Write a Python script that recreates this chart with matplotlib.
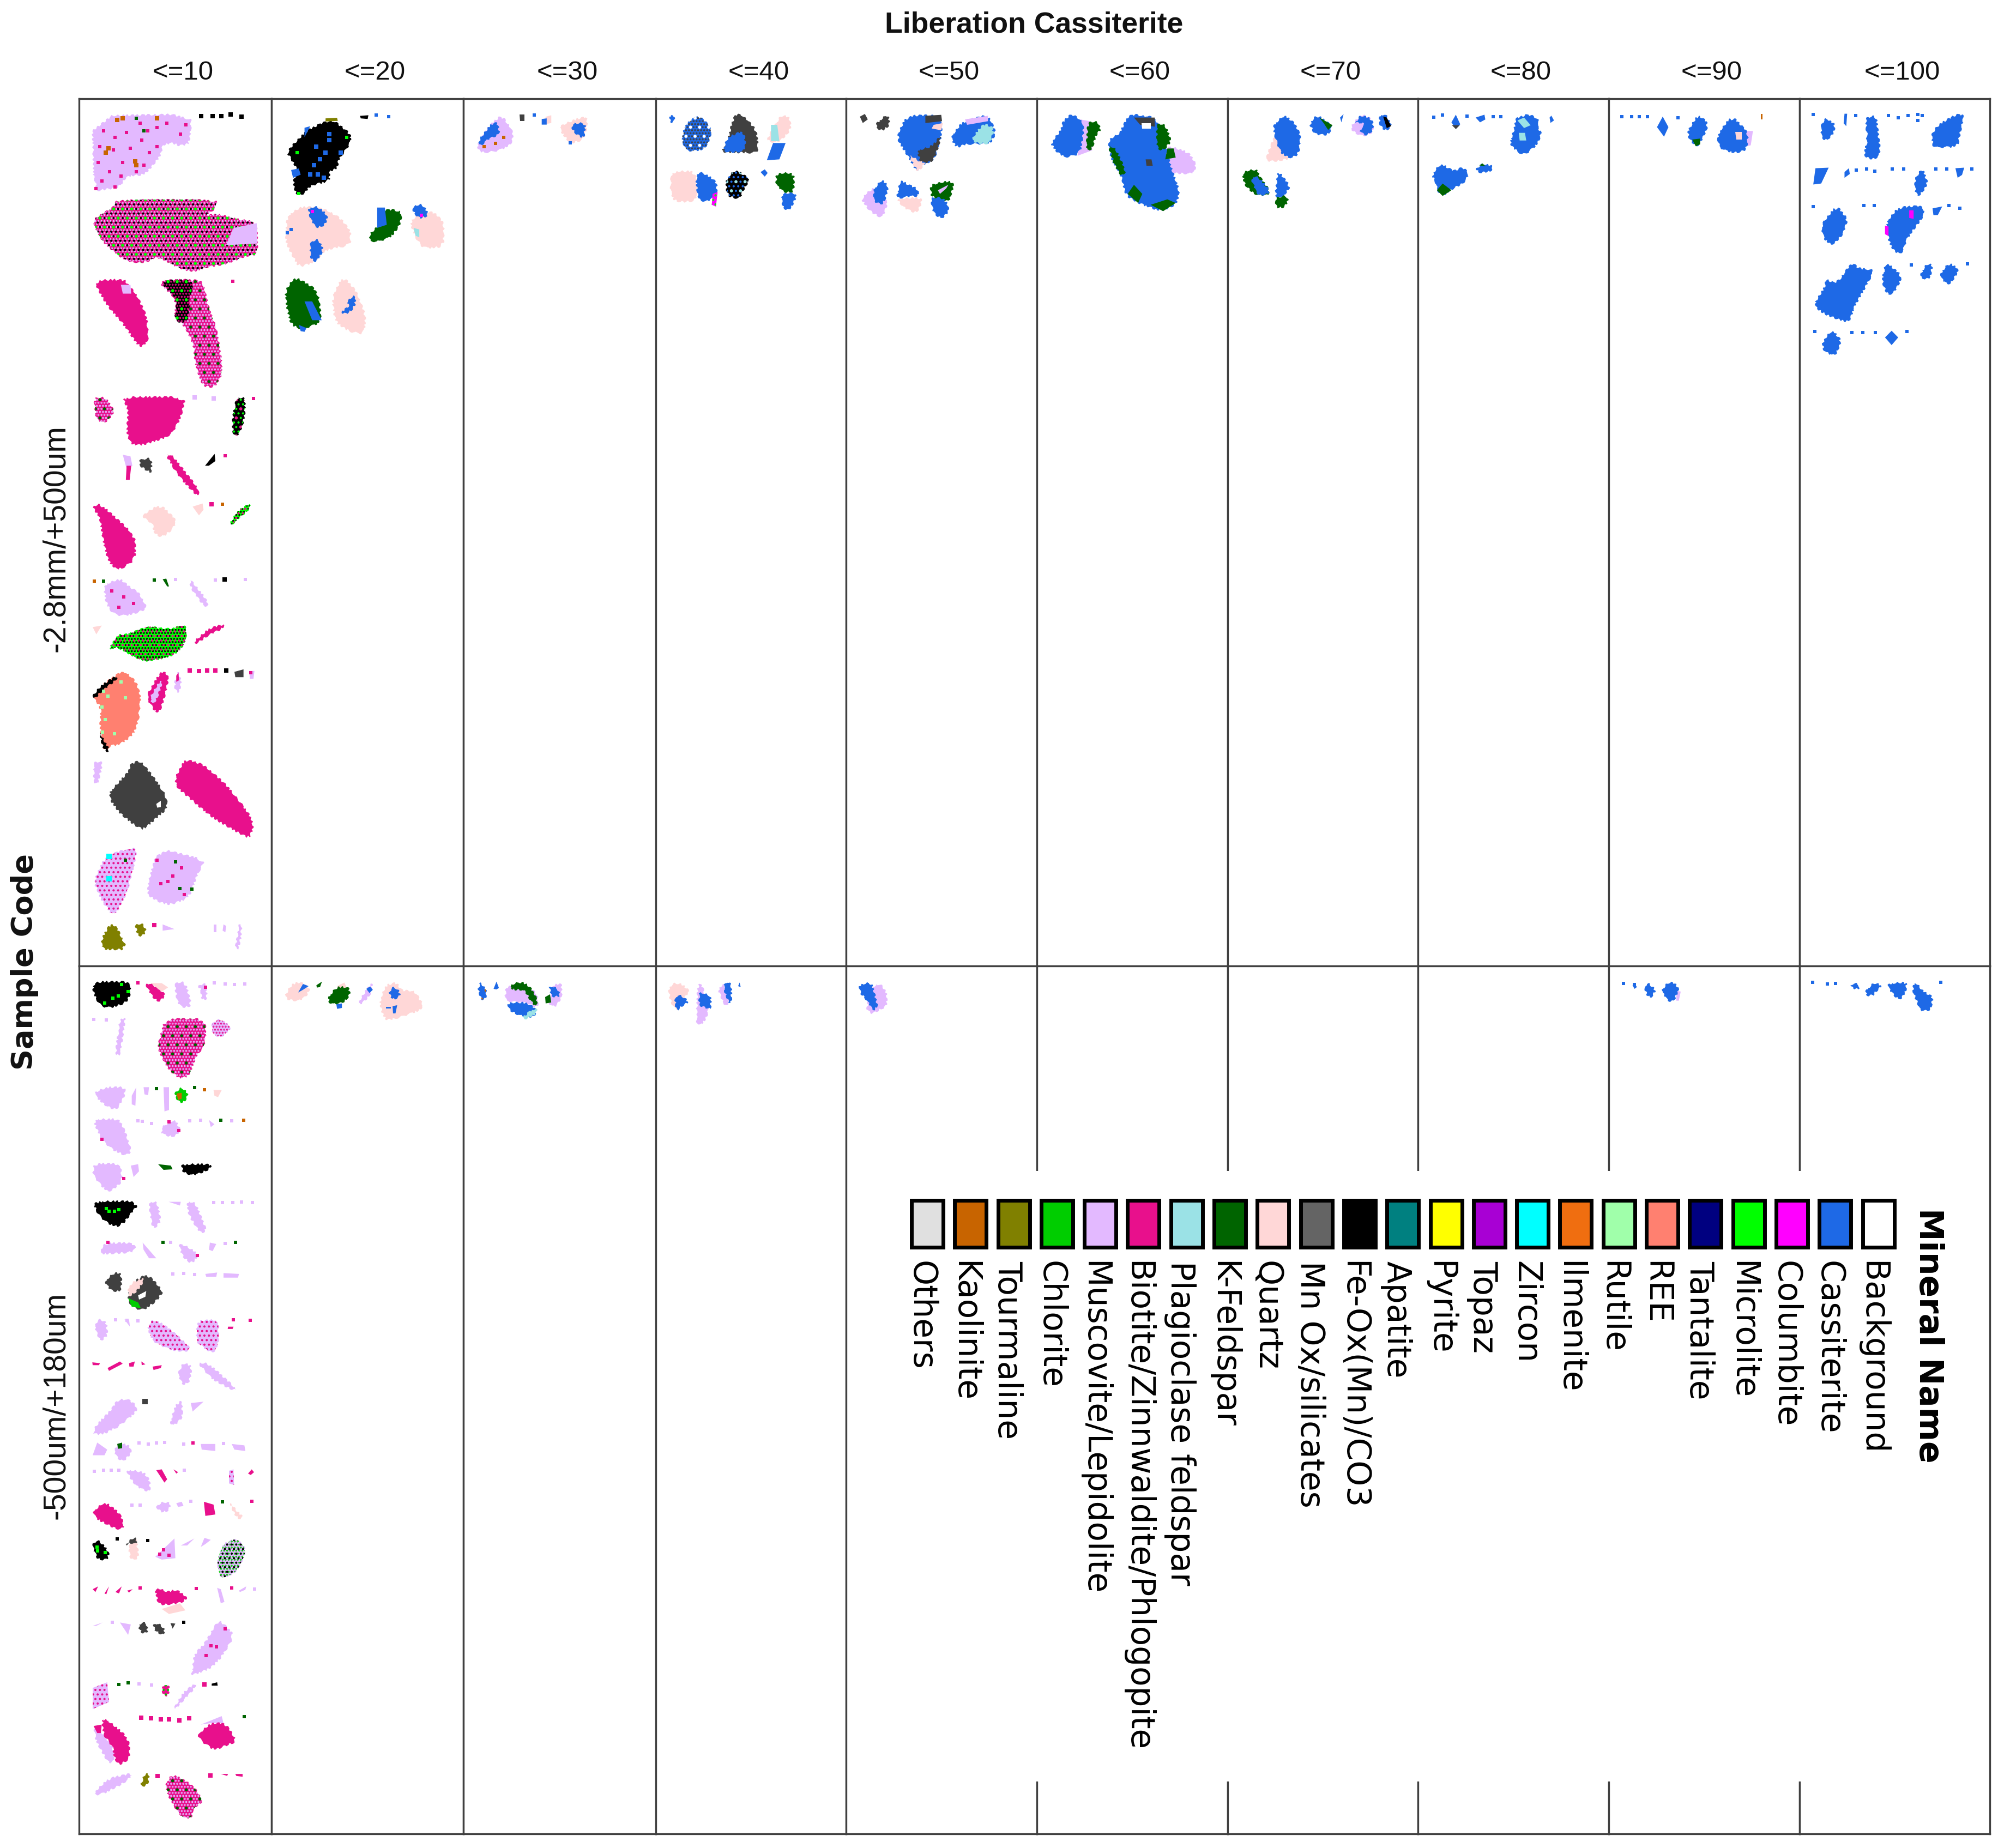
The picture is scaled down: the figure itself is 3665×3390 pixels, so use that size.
import matplotlib
matplotlib.use("Agg")
import matplotlib.pyplot as plt
from matplotlib.patches import Polygon, Rectangle

plt.rcParams["hatch.linewidth"] = 1.7

W, H = 3666, 3391
X_EDGES = [145, 498, 850, 1203, 1552, 1902, 2252, 2601, 2951, 3301, 3650]
Y_EDGES = [182, 1773, 3365]

COL_LABELS = ["<=10", "<=20", "<=30", "<=40", "<=50", "<=60", "<=70", "<=80", "<=90", "<=100"]
ROW_LABELS = ["-2.8mm/+500um", "-500um/+180um"]

MINERAL_NAMES = ["Others", "Kaolinite", "Tourmaline", "Chlorite", "Muscovite/Lepidolite",
                 "Biotite/Zinnwaldite/Phlogopite", "Plagioclase feldspar", "K-Feldspar", "Quartz",
                 "Mn Ox/silicates", "Fe-Ox(Mn)/CO3", "Apatite", "Pyrite", "Topaz", "Zircon", "Ilmenite",
                 "Rutile", "REE", "Tantalite", "Microlite", "Columbite", "Cassiterite", "Background"]
MINERAL_COLORS = ["#E0E0E0", "#C86400", "#808000", "#00CD00", "#E3B9FF", "#E8108C", "#9BE2E6", "#006400",
                  "#FFD7D7", "#646464", "#000000", "#008080", "#FFFF00", "#A800D4", "#00FFFF", "#F06E10",
                  "#A0FFAA", "#FF8070", "#000080", "#00FF00", "#FF00FF", "#1E69E6", "#FFFFFF"]

# grain colours, Mn phase shows darker in the maps than in the key
COL = {"KAO": "#C86400", "TOU": "#808000", "CHL": "#00CD00", "MUS": "#E3B9FF", "BIO": "#E8108C",
       "PLA": "#9BE2E6", "KFS": "#006400", "QTZ": "#FFD7D7", "MNO": "#404040", "FEO": "#000000",
       "ZIR": "#00FFFF", "REE": "#FF8070", "RUT": "#A0FFAA", "MIC": "#00FF00", "COL": "#FF00FF",
       "CAS": "#1E69E6", "WHT": "#FFFFFF"}

# outlines were traced on crops of the scan: name -> (left, top, x scale, y scale)
CROPS = {"A": (120, 0, 1.425, 1.742), "B": (120, 850, 3.0, 1.742), "C": (1200, 150, 1.3067, 3.0),
         "D": (2400, 150, 1.2385, 2.851), "E": (120, 1760, 3.0, 1.912), "F": (120, 2580, 3.0, 1.933),
         "G": (500, 1780, 2.24, 3.0), "H": (1200, 1780, 3.0, 3.0), "I": (2950, 1780, 2.24, 3.0)}

# textures laid over a grain: (mineral, hatch)
MOTTLE = [("MUS", "..."), ("FEO", ".."), ("MIC", ".")]
PINK_MIX = [("MUS", "..."), ("KFS", ".")]
GREEN_MIX = [("FEO", "..."), ("BIO", "..")]
BLUE_MN = [("MNO", "..."), ("WHT", ".")]
BLACK_MIX = [("CAS", ".."), ("PLA", ".")]

# each grain: (crop, mineral, outline, texture)
GRAINS_00 = [
    ("A", "MUS", [(70, 372), (330, 366), (325, 460), (300, 468), (278, 458), (255, 465), (248, 500), (225, 535), (205, 560), (160, 565), (140, 600), (115, 605), (75, 612)], None),
    ("A", "BIO", [(135, 640), (397, 640), (390, 670), (365, 690), (400, 686), (440, 700), (500, 712), (502, 815), (470, 820), (420, 845), (370, 855), (335, 870), (300, 860), (240, 820), (210, 840), (170, 840), (135, 815), (95, 770), (75, 720), (75, 700), (125, 665)], MOTTLE),
    ("A", "MUS", [(440, 730), (500, 715), (502, 780), (420, 785)], None),
    ("A", "BIO", [(72, 897), (155, 895), (165, 915), (185, 940), (212, 1010), (218, 1090), (195, 1115), (150, 1035), (110, 980)], None),
    ("A", "MUS", [(145, 912), (170, 912), (172, 940), (150, 940)], None),
    ("A", "BIO", [(240, 897), (335, 895), (360, 905), (375, 990), (395, 1050), (412, 1190), (390, 1240), (360, 1235), (340, 1170), (335, 1100), (310, 1040), (285, 1020), (290, 960)], PINK_MIX),
    ("A", "FEO", [(245, 897), (335, 897), (325, 950), (320, 1030), (285, 1030), (293, 960)], [("BIO", "..."), ("MIC", ".")]),
    ("A", "BIO", [(75, 1272), (105, 1272), (130, 1320), (100, 1355), (80, 1340)], PINK_MIX),
    ("A", "BIO", [(147, 1270), (315, 1270), (300, 1340), (275, 1395), (200, 1425), (170, 1420), (160, 1380), (165, 1310)], None),
    ("A", "FEO", [(447, 1272), (470, 1272), (468, 1340), (452, 1395), (438, 1390), (437, 1340)], [("MIC", ".."), ("BIO", ".")]),
    ("A", "MUS", [(150, 1455), (170, 1460), (175, 1490), (160, 1500)], None),
    ("A", "BIO", [(160, 1490), (172, 1490), (168, 1535), (158, 1535)], None),
    ("A", "MNO", [(195, 1470), (225, 1465), (225, 1512), (212, 1505), (195, 1490)], None),
    ("B", "BIO", [(552, -26), (585, -26), (640, 15), (735, 85), (730, 105), (715, 100), (620, 40)], None),
    ("A", "FEO", [(365, 1490), (390, 1452), (392, 1475), (375, 1490)], None),
    ("B", "BIO", [(148, 140), (190, 130), (385, 232), (383, 310), (290, 345), (235, 315), (205, 240), (190, 175)], None),
    ("B", "QTZ", [(415, 170), (520, 132), (615, 185), (585, 215), (530, 238), (490, 225), (480, 195)], None),
    ("B", "QTZ", [(700, 140), (755, 130), (760, 150), (735, 168)], None),
    ("B", "MIC", [(905, 195), (945, 155), (1015, 130), (1015, 145), (960, 175), (915, 198)], [("FEO", "..."), ("BIO", "..")]),
    ("B", "MUS", [(210, 390), (300, 370), (350, 395), (405, 415), (450, 465), (400, 478), (310, 490), (260, 480), (225, 450)], None),
    ("B", "KFS", [(535, 372), (555, 370), (570, 395), (560, 395)], None),
    ("B", "MUS", [(685, 370), (780, 440), (785, 465), (745, 445), (690, 400)], None),
    ("B", "QTZ", [(150, 525), (200, 520), (170, 548)], None),
    ("B", "MIC", [(235, 595), (290, 550), (340, 548), (400, 535), (460, 522), (540, 530), (600, 530), (630, 518), (668, 525), (660, 575), (610, 610), (540, 625), (430, 635), (350, 610), (290, 590)], GREEN_MIX),
    ("B", "BIO", [(710, 570), (790, 530), (870, 515), (868, 528), (790, 550), (720, 578)], None),
    ("B", "REE", [(150, 750), (200, 710), (320, 662), (390, 700), (415, 750), (400, 830), (370, 870), (300, 900), (240, 905), (235, 925), (205, 910), (190, 840), (195, 780)], None),
    ("B", "FEO", [(150, 745), (190, 715), (280, 680), (285, 690), (190, 735), (160, 755)], None),
    ("B", "FEO", [(190, 860), (205, 880), (240, 915), (235, 925), (205, 910)], None),
    ("B", "BIO", [(452, 740), (500, 690), (535, 665), (568, 680), (555, 730), (520, 795), (495, 795), (455, 760)], None),
    ("B", "MUS", [(465, 750), (510, 705), (535, 695), (510, 745), (480, 775)], None),
    ("B", "MUS", [(605, 690), (620, 665), (638, 700), (625, 735), (602, 725)], None),
    ("B", "BIO", [(610, 680), (622, 670), (625, 695), (610, 700)], None),
    ("B", "MNO", [(930, 668), (980, 660), (980, 685), (935, 685)], None),
    ("B", "MUS", [(1012, 665), (1040, 665), (1035, 690), (1015, 690)], None),
    ("B", "MUS", [(155, 955), (205, 955), (195, 985), (178, 1025), (158, 1025)], None),
    ("B", "MNO", [(245, 1050), (295, 1020), (350, 985), (355, 965), (410, 950), (480, 1000), (555, 1065), (560, 1105), (510, 1130), (430, 1172), (385, 1160), (300, 1120), (245, 1075)], None),
    ("B", "WHT", [(500, 1090), (525, 1080), (525, 1100), (505, 1102)], None),
    ("B", "BIO", [(605, 1005), (650, 955), (680, 950), (760, 965), (870, 1020), (950, 1075), (1020, 1130), (1035, 1165), (1010, 1200), (930, 1175), (800, 1130), (690, 1075), (610, 1035)], None),
    ("B", "MUS", [(155, 1335), (220, 1260), (300, 1240), (395, 1230), (375, 1290), (340, 1370), (290, 1430), (260, 1445), (200, 1400)], [("BIO", "..")]),
    ("B", "MUS", [(440, 1375), (510, 1230), (770, 1270), (730, 1310), (680, 1390), (580, 1412), (520, 1405)], None),
    ("B", "TOU", [(200, 1555), (200, 1520), (245, 1475), (280, 1480), (340, 1555)], None),
    ("B", "TOU", [(385, 1475), (425, 1472), (445, 1495), (420, 1515), (395, 1505)], None),
    ("B", "MUS", [(535, 1475), (600, 1490), (535, 1495)], None),
    ("B", "MUS", [(815, 1475), (830, 1475), (830, 1500), (815, 1500)], None),
    ("B", "MUS", [(870, 1475), (885, 1480), (880, 1500), (865, 1495)], None),
    ("B", "MUS", [(955, 1475), (970, 1475), (965, 1520), (950, 1555), (935, 1550), (945, 1520)], None),
]
GRAINS_01 = [
    ("A", "FEO", [(590, 470), (630, 420), (670, 395), (700, 385), (745, 430), (745, 460), (715, 510), (710, 540), (690, 550), (690, 580), (640, 595), (625, 620), (605, 625), (595, 590), (605, 540), (590, 510), (580, 490)], None),
    ("A", "TOU", [(680, 380), (710, 378), (712, 388), (680, 390)], None),
    ("A", "CAS", [(625, 410), (640, 405), (625, 440)], None),
    ("A", "CAS", [(590, 545), (610, 540), (615, 560), (595, 570)], None),
    ("A", "FEO", [(770, 372), (792, 370), (790, 382), (772, 380)], None),
    ("A", "QTZ", [(580, 690), (620, 660), (680, 670), (720, 700), (745, 740), (745, 785), (680, 800), (650, 840), (610, 855), (590, 810), (575, 770)], None),
    ("A", "CAS", [(635, 665), (660, 662), (685, 690), (680, 720), (655, 730), (640, 700)], None),
    ("A", "CAS", [(640, 775), (660, 765), (675, 800), (655, 840), (640, 825)], None),
    ("A", "KFS", [(795, 750), (820, 720), (815, 680), (850, 670), (880, 680), (875, 720), (850, 760), (815, 775), (795, 770)], None),
    ("A", "CAS", [(815, 665), (835, 665), (840, 720), (815, 730)], None),
    ("A", "QTZ", [(900, 710), (930, 680), (965, 680), (990, 715), (988, 790), (935, 795), (915, 760)], None),
    ("A", "CAS", [(908, 658), (935, 655), (950, 690), (925, 700), (910, 680)], None),
    ("A", "PLA", [(910, 730), (925, 735), (925, 760), (915, 755)], None),
    ("A", "KFS", [(575, 930), (600, 885), (660, 930), (670, 1030), (620, 1055), (590, 1040), (578, 980)], None),
    ("A", "CAS", [(625, 965), (645, 965), (670, 1025), (645, 1025)], None),
    ("A", "CAS", [(610, 1040), (630, 1050), (625, 1062), (615, 1060)], None),
    ("A", "QTZ", [(697, 950), (725, 885), (760, 930), (785, 1010), (780, 1070), (740, 1060), (705, 1030)], None),
    ("A", "CAS", [(735, 960), (760, 945), (755, 985), (735, 1005), (720, 1000), (742, 980)], None),
]
GRAINS_02 = [
    ("A", "MUS", [(1075, 465), (1110, 400), (1140, 370), (1170, 420), (1168, 460), (1130, 485), (1085, 490)], None),
    ("A", "CAS", [(1080, 450), (1115, 395), (1130, 395), (1135, 430), (1100, 450), (1085, 470)], None),
    ("A", "MNO", [(1187, 368), (1200, 368), (1200, 388), (1188, 388)], None),
    ("A", "QTZ", [(1255, 375), (1270, 370), (1270, 395), (1255, 398)], None),
    ("A", "CAS", [(1245, 382), (1258, 380), (1258, 400), (1245, 400)], None),
    ("A", "QTZ", [(1290, 405), (1340, 380), (1365, 375), (1360, 430), (1350, 450), (1320, 460), (1300, 430)], None),
    ("A", "CAS", [(1325, 395), (1360, 395), (1355, 445), (1335, 430), (1325, 415)], None),
]
GRAINS_03 = [
    ("C", "CAS", [(38, 190), (45, 180), (50, 215), (42, 230), (38, 215)], None),
    ("C", "CAS", [(65, 320), (75, 240), (105, 185), (140, 260), (125, 370), (80, 390)], BLUE_MN),
    ("C", "MNO", [(163, 380), (180, 300), (185, 240), (195, 180), (215, 190), (245, 270), (250, 385), (235, 395), (165, 390)], None),
    ("C", "CAS", [(165, 380), (175, 310), (215, 270), (220, 385), (180, 392)], None),
    ("C", "QTZ", [(290, 240), (305, 185), (325, 200), (328, 265), (300, 335), (280, 335), (270, 320)], None),
    ("C", "PLA", [(280, 240), (295, 240), (300, 330), (280, 330)], None),
    ("C", "CAS", [(270, 435), (285, 340), (315, 340), (300, 430)], None),
    ("C", "QTZ", [(42, 495), (100, 495), (105, 660), (50, 665), (38, 600)], None),
    ("C", "CAS", [(100, 520), (110, 495), (150, 550), (150, 630), (125, 665), (105, 650)], None),
    ("C", "COL", [(140, 620), (152, 610), (148, 690), (138, 680)], [("MIC", "..")]),
    ("C", "FEO", [(172, 540), (195, 485), (230, 540), (215, 590), (205, 650), (175, 630)], BLACK_MIX),
    ("C", "CAS", [(255, 500), (265, 485), (272, 505), (265, 525)], None),
    ("C", "KFS", [(293, 505), (335, 505), (335, 610), (310, 610), (292, 570)], None),
    ("C", "CAS", [(308, 615), (338, 615), (340, 640), (325, 710), (310, 700), (305, 650)], None),
]
GRAINS_04 = [
    ("C", "MNO", [(493, 195), (505, 180), (512, 210), (500, 230)], None),
    ("C", "MNO", [(535, 225), (560, 180), (565, 240), (545, 275), (532, 250)], None),
    ("C", "CAS", [(580, 310), (605, 190), (685, 185), (690, 290), (670, 440), (650, 450), (630, 500), (610, 420)], None),
    ("C", "MNO", [(650, 190), (688, 185), (690, 220), (650, 230)], None),
    ("C", "MNO", [(630, 380), (665, 360), (690, 290), (670, 440), (640, 450)], None),
    ("C", "QTZ", [(610, 400), (635, 440), (650, 450), (632, 500), (620, 450)], None),
    ("C", "QTZ", [(670, 240), (692, 230), (688, 270), (665, 260)], None),
    ("C", "CAS", [(710, 310), (740, 220), (800, 185), (820, 280), (805, 345), (750, 345), (725, 365)], None),
    ("C", "MUS", [(745, 210), (800, 190), (800, 220), (750, 240)], None),
    ("C", "PLA", [(770, 340), (760, 320), (790, 230), (815, 260), (805, 345)], None),
    ("C", "MUS", [(495, 640), (530, 580), (560, 660), (550, 740), (540, 748), (515, 710)], None),
    ("C", "CAS", [(525, 600), (545, 540), (562, 580), (550, 675), (528, 670)], None),
    ("C", "QTZ", [(580, 645), (640, 640), (640, 680), (628, 725), (600, 700)], None),
    ("C", "CAS", [(582, 625), (590, 545), (610, 570), (630, 590), (635, 630), (610, 635), (585, 645)], None),
    ("C", "KFS", [(662, 570), (700, 550), (720, 560), (705, 670), (665, 640)], None),
    ("C", "MUS", [(680, 600), (705, 570), (700, 590), (685, 620)], None),
    ("C", "CAS", [(662, 640), (690, 640), (705, 680), (705, 720), (690, 755), (670, 730)], None),
]
GRAINS_05 = [
    ("C", "MUS", [(1020, 210), (1045, 220), (1050, 380), (1015, 410)], None),
    ("C", "KFS", [(1040, 220), (1065, 225), (1070, 270), (1060, 290), (1050, 370), (1035, 385)], None),
    ("C", "CAS", [(950, 340), (975, 270), (980, 220), (1000, 180), (1025, 215), (1030, 270), (1020, 400), (985, 420), (965, 390)], None),
    ("C", "MUS", [(1225, 350), (1280, 390), (1298, 450), (1295, 510), (1230, 505), (1225, 470)], None),
    ("C", "CAS", [(1088, 320), (1115, 290), (1125, 240), (1140, 180), (1205, 200), (1215, 340), (1225, 360), (1240, 480), (1260, 610), (1250, 680), (1215, 715), (1170, 680), (1130, 630), (1120, 520), (1095, 430)], None),
    ("C", "KFS", [(1088, 350), (1105, 370), (1120, 440), (1130, 500), (1120, 520), (1105, 470)], None),
    ("C", "KFS", [(1205, 230), (1225, 240), (1240, 330), (1220, 380), (1205, 370)], None),
    ("C", "KFS", [(1230, 370), (1245, 370), (1250, 420), (1225, 430)], None),
    ("C", "KFS", [(1135, 620), (1150, 570), (1170, 620), (1160, 670)], None),
    ("C", "KFS", [(1190, 680), (1230, 650), (1250, 670), (1220, 715)], None),
    ("C", "MNO", [(1150, 200), (1200, 200), (1200, 250), (1165, 240)], None),
    ("C", "WHT", [(1168, 230), (1190, 230), (1190, 260), (1170, 260)], None),
    ("C", "MNO", [(1178, 430), (1192, 430), (1195, 465), (1180, 465)], None),
]
GRAINS_06 = [
    ("C", "QTZ", [(1490, 290), (1510, 390), (1525, 425), (1490, 440), (1465, 440), (1475, 370)], None),
    ("C", "CAS", [(1485, 240), (1510, 185), (1535, 230), (1550, 300), (1545, 400), (1525, 425), (1500, 390), (1485, 280)], None),
    ("C", "KFS", [(1410, 495), (1445, 485), (1450, 520), (1475, 600), (1470, 630), (1440, 625), (1415, 570)], None),
    ("C", "CAS", [(1430, 530), (1445, 520), (1475, 600), (1470, 625), (1445, 625)], None),
    ("C", "CAS", [(1490, 590), (1495, 490), (1525, 580), (1510, 625), (1515, 640), (1490, 640)], None),
    ("C", "KFS", [(1490, 640), (1515, 630), (1520, 655), (1510, 695), (1490, 695)], None),
    ("D", "CAS", [(2, 220), (20, 175), (55, 235), (45, 280), (15, 280)], None),
    ("D", "KFS", [(25, 190), (55, 230), (45, 255), (35, 220)], None),
    ("D", "CAS", [(72, 190), (80, 172), (75, 215)], None),
    ("D", "MUS", [(95, 240), (120, 172), (145, 200), (148, 260), (130, 290), (105, 270)], None),
    ("D", "CAS", [(105, 220), (120, 175), (145, 200), (148, 255), (130, 285), (115, 260), (130, 225), (115, 215)], None),
    ("D", "CAS", [(162, 180), (175, 170), (190, 235), (175, 260), (162, 230)], None),
    ("D", "FEO", [(170, 185), (178, 190), (188, 235), (178, 245)], None),
]
GRAINS_07 = [
    ("D", "CAS", [(325, 215), (335, 175), (345, 225), (335, 250)], None),
    ("D", "MNO", [(326, 230), (344, 230), (335, 250)], None),
    ("D", "CAS", [(380, 190), (400, 175), (402, 200), (390, 215)], None),
    ("D", "CAS", [(458, 320), (470, 230), (470, 195), (500, 172), (525, 200), (520, 240), (530, 270), (520, 330), (490, 390), (465, 350)], None),
    ("D", "PLA", [(475, 205), (490, 190), (505, 230), (490, 245)], None),
    ("D", "PLA", [(478, 270), (492, 270), (495, 310), (480, 310)], None),
    ("D", "CAS", [(548, 190), (552, 180), (558, 205), (550, 218)], None),
    ("D", "CAS", [(280, 490), (300, 430), (330, 470), (350, 450), (365, 480), (355, 530), (325, 565), (305, 600), (292, 570), (290, 530)], None),
    ("D", "KFS", [(292, 570), (305, 535), (325, 570), (305, 600)], None),
    ("D", "CAS", [(380, 460), (395, 430), (420, 445), (415, 470), (390, 480)], None),
    ("D", "KFS", [(388, 440), (396, 430), (402, 445)], None),
]
GRAINS_08 = [
    ("D", "CAS", [(792, 240), (805, 185), (818, 240), (808, 290)], None),
    ("D", "CAS", [(862, 260), (885, 175), (910, 220), (890, 330), (880, 340), (865, 300)], None),
    ("D", "KFS", [(872, 305), (890, 300), (890, 330), (880, 340)], None),
    ("D", "MUS", [(990, 260), (1010, 260), (1005, 335), (995, 340)], None),
    ("D", "CAS", [(928, 280), (962, 180), (1000, 270), (995, 360), (970, 375), (935, 355)], None),
    ("D", "QTZ", [(970, 265), (985, 265), (985, 305), (972, 305)], None),
    ("D", "KAO", [(1028, 170), (1032, 170), (1032, 200), (1028, 200)], None),
]
GRAINS_09 = [
    ("D", "CAS", [(1165, 230), (1175, 190), (1198, 230), (1190, 285), (1175, 310), (1165, 290)], None),
    ("D", "CAS", [(1265, 190), (1290, 180), (1295, 280), (1300, 380), (1285, 410), (1262, 395), (1270, 300)], None),
    ("D", "CAS", [(1218, 170), (1224, 170), (1222, 235), (1216, 220)], None),
    ("D", "CAS", [(1415, 280), (1430, 230), (1470, 175), (1490, 175), (1480, 280), (1475, 340), (1420, 350)], None),
    ("D", "CAS", [(1152, 455), (1182, 452), (1165, 535), (1147, 540)], None),
    ("D", "CAS", [(1218, 475), (1228, 455), (1230, 485), (1218, 505)], None),
    ("D", "CAS", [(1378, 510), (1395, 452), (1408, 540), (1385, 605), (1378, 570)], None),
    ("D", "CAS", [(1470, 455), (1490, 452), (1485, 490), (1475, 505)], None),
    ("D", "CAS", [(1165, 750), (1200, 650), (1225, 720), (1215, 800), (1190, 860), (1170, 820)], None),
    ("D", "CAS", [(1312, 740), (1340, 660), (1395, 650), (1400, 700), (1360, 820), (1350, 895), (1335, 900), (1320, 850)], None),
    ("D", "COL", [(1310, 755), (1318, 760), (1318, 810), (1310, 800)], None),
    ("D", "COL", [(1365, 675), (1375, 675), (1375, 720), (1365, 715)], None),
    ("D", "CAS", [(1418, 665), (1440, 655), (1430, 700), (1420, 700)], None),
    ("D", "CAS", [(1147, 1170), (1175, 1070), (1175, 1035), (1200, 1060), (1235, 945), (1250, 980), (1287, 985), (1260, 1100), (1240, 1180), (1230, 1255), (1215, 1255), (1170, 1215)], None),
    ("D", "CAS", [(1305, 1020), (1312, 945), (1350, 1020), (1330, 1110), (1315, 1115), (1305, 1060)], None),
    ("D", "CAS", [(1392, 1000), (1405, 955), (1418, 960), (1412, 1035), (1392, 1030)], None),
    ("D", "CAS", [(1437, 1000), (1455, 950), (1480, 985), (1455, 1070), (1437, 1030)], None),
    ("D", "CAS", [(1168, 1360), (1190, 1300), (1212, 1360), (1195, 1440), (1170, 1410)], None),
    ("D", "CAS", [(1310, 1340), (1325, 1305), (1340, 1340), (1325, 1380)], None),
]
GRAINS_10 = [
    ("E", "FEO", [(150, 100), (165, 80), (358, 80), (358, 125), (330, 155), (240, 172), (195, 165), (160, 130)], None),
    ("E", "BIO", [(440, 88), (470, 85), (555, 125), (515, 152), (475, 130)], None),
    ("E", "QTZ", [(470, 85), (530, 85), (565, 100), (530, 115)], None),
    ("E", "MUS", [(600, 82), (660, 82), (695, 165), (640, 170), (615, 150)], None),
    ("E", "MUS", [(730, 95), (770, 82), (780, 140), (750, 143), (745, 105)], None),
    ("E", "MUS", [(290, 260), (300, 215), (330, 205), (320, 250), (300, 340), (275, 335)], None),
    ("E", "BIO", [(510, 300), (550, 210), (770, 210), (770, 300), (720, 340), (680, 410), (630, 420), (570, 390), (520, 330)], PINK_MIX),
    ("E", "MUS", [(805, 225), (850, 210), (915, 240), (860, 275), (810, 265)], [("BIO", "...")]),
    ("E", "MUS", [(150, 470), (230, 450), (330, 450), (320, 490), (280, 530), (220, 515)], None),
    ("E", "MUS", [(365, 480), (390, 450), (385, 515), (365, 510)], None),
    ("E", "MUS", [(430, 450), (460, 450), (455, 478), (435, 475)], None),
    ("E", "MUS", [(540, 450), (570, 450), (570, 530), (545, 535)], None),
    ("E", "CHL", [(600, 470), (640, 450), (678, 475), (650, 505), (620, 500)], None),
    ("E", "KAO", [(612, 472), (640, 470), (640, 490), (620, 495)], None),
    ("E", "QTZ", [(815, 460), (860, 460), (840, 485), (820, 480)], None),
    ("E", "MUS", [(150, 562), (290, 562), (320, 590), (365, 675), (330, 690), (250, 665), (195, 630)], None),
    ("E", "MUS", [(530, 590), (600, 562), (635, 600), (600, 625), (530, 615)], None),
    ("E", "MUS", [(790, 565), (820, 580), (800, 590)], None),
    ("E", "MUS", [(150, 755), (160, 718), (300, 718), (315, 780), (240, 820), (190, 790)], None),
    ("E", "MUS", [(360, 725), (400, 720), (405, 745), (375, 765)], None),
    ("E", "KFS", [(510, 720), (580, 725), (590, 738), (540, 740)], None),
    ("E", "FEO", [(635, 720), (800, 720), (800, 735), (710, 760), (650, 750)], None),
    ("E", "FEO", [(148, 850), (415, 850), (300, 942), (225, 925), (180, 895)], None),
    ("E", "MUS", [(458, 852), (505, 852), (525, 920), (490, 945), (475, 930)], None),
    ("E", "MUS", [(568, 852), (635, 852), (630, 865)], None),
    ("E", "MUS", [(670, 850), (715, 855), (760, 925), (775, 950), (745, 965), (680, 900)], None),
    ("E", "MUS", [(190, 1025), (215, 998), (360, 995), (390, 1015), (360, 1030), (195, 1035)], None),
    ("E", "MUS", [(425, 995), (500, 1050), (460, 1050), (430, 1020)], None),
    ("E", "MUS", [(625, 995), (700, 1020), (730, 1040), (695, 1070), (640, 1040)], None),
    ("E", "MUS", [(795, 995), (830, 1000), (810, 1025), (790, 1020)], None),
    ("E", "MNO", [(215, 1130), (270, 1100), (308, 1105), (308, 1165), (250, 1165)], None),
    ("E", "MNO", [(340, 1180), (380, 1130), (450, 1105), (540, 1165), (500, 1200), (420, 1235), (360, 1215)], None),
    ("E", "QTZ", [(345, 1150), (380, 1130), (440, 1120), (395, 1165), (345, 1185)], None),
    ("E", "CHL", [(345, 1190), (400, 1205), (415, 1225), (365, 1220)], None),
    ("E", "WHT", [(400, 1180), (445, 1165), (440, 1185), (405, 1195)], None),
    ("E", "MUS", [(770, 1105), (835, 1100), (830, 1115), (775, 1115)], None),
    ("E", "MUS", [(870, 1102), (955, 1105), (950, 1118), (870, 1118)], None),
    ("E", "MUS", [(160, 1285), (185, 1262), (225, 1275), (232, 1320), (195, 1340), (170, 1310)], None),
    ("E", "MUS", [(325, 1265), (350, 1265), (355, 1290)], None),
    ("E", "MUS", [(450, 1290), (480, 1265), (550, 1285), (685, 1360), (670, 1378), (570, 1370), (480, 1340)], [("BIO", "..")]),
    ("E", "MUS", [(722, 1330), (725, 1270), (840, 1265), (845, 1340), (815, 1385), (730, 1350)], [("BIO", "..")]),
    ("E", "BIO", [(895, 1290), (925, 1290), (920, 1298), (893, 1298)], None),
    ("E", "BIO", [(148, 1415), (190, 1418), (185, 1425), (150, 1425)], None),
    ("E", "BIO", [(232, 1435), (300, 1412), (315, 1420), (240, 1445)], None),
    ("E", "BIO", [(350, 1418), (382, 1412), (375, 1430), (352, 1430)], None),
    ("E", "BIO", [(418, 1412), (440, 1422), (420, 1425)], None),
    ("E", "BIO", [(480, 1430), (530, 1425), (525, 1435), (485, 1442)], None),
    ("E", "MUS", [(622, 1450), (650, 1415), (695, 1430), (685, 1480), (650, 1495), (625, 1470)], None),
    ("E", "MUS", [(728, 1415), (790, 1420), (945, 1510), (910, 1510), (800, 1470)], None),
    ("F", "MUS", [(155, 100), (160, 75), (250, 15), (290, -23), (350, -23), (390, 0), (390, 20), (300, 70), (210, 100)], None),
    ("F", "MUS", [(575, 60), (605, 0), (640, -20), (645, 40), (600, 70)], None),
    ("F", "MUS", [(690, -10), (760, -15), (700, 20)], None),
    ("F", "MUS", [(150, 175), (175, 130), (230, 155), (215, 175)], None),
    ("F", "MUS", [(265, 155), (300, 130), (360, 145), (360, 170), (320, 195), (285, 185)], None),
    ("F", "KFS", [(285, 135), (312, 130), (312, 150), (290, 152)], None),
    ("F", "MUS", [(745, 135), (825, 135), (825, 160), (750, 155)], None),
    ("F", "MUS", [(915, 135), (985, 140), (990, 160), (930, 155)], None),
    ("F", "MUS", [(335, 225), (430, 235), (465, 265), (465, 305), (400, 290), (360, 260)], None),
    ("F", "BIO", [(500, 228), (530, 225), (560, 260), (545, 272)], None),
    ("F", "BIO", [(595, 225), (620, 235), (610, 240)], None),
    ("F", "MUS", [(900, 230), (925, 225), (928, 280), (900, 275)], [("BIO", "..")]),
    ("F", "BIO", [(1005, 240), (1025, 225), (1038, 235), (1020, 245)], None),
    ("F", "BIO", [(150, 375), (215, 340), (300, 380), (325, 430), (290, 440), (170, 400)], None),
    ("F", "MUS", [(495, 355), (540, 340), (578, 345), (570, 370), (530, 378)], None),
    ("F", "MUS", [(610, 345), (640, 340), (650, 355), (620, 358)], None),
    ("F", "BIO", [(762, 340), (815, 350), (825, 385), (770, 390)], None),
    ("F", "QTZ", [(905, 340), (940, 370), (978, 395), (960, 402), (930, 385)], None),
    ("F", "FEO", [(150, 490), (175, 475), (205, 490), (240, 520), (230, 545), (180, 545), (155, 510)], None),
    ("F", "QTZ", [(345, 500), (370, 470), (390, 470), (405, 540), (360, 545)], None),
    ("F", "MNO", [(325, 495), (370, 468), (390, 470), (390, 490), (360, 485)], None),
    ("F", "MUS", [(495, 535), (600, 470), (605, 540), (530, 545)], None),
    ("F", "MUS", [(635, 495), (710, 470), (670, 495)], None),
    ("F", "MUS", [(745, 500), (765, 468), (800, 475), (770, 490)], None),
    ("F", "MUS", [(835, 545), (870, 490), (940, 470), (985, 500), (990, 525), (940, 590), (860, 612), (845, 590)], [("CHL", "..."), ("FEO", "..")]),
    ("F", "BIO", [(150, 650), (180, 640), (165, 660)], None),
    ("F", "BIO", [(215, 665), (240, 640), (225, 668)], None),
    ("F", "BIO", [(275, 660), (310, 640), (295, 665)], None),
    ("F", "BIO", [(340, 655), (370, 650), (350, 662)], None),
    ("F", "QTZ", [(530, 720), (630, 700), (660, 725), (570, 738)], None),
    ("F", "BIO", [(492, 640), (560, 660), (610, 652), (675, 680), (630, 700), (540, 705), (510, 700)], None),
    ("F", "MUS", [(955, 655), (995, 640), (990, 652), (960, 660)], None),
    ("F", "MUS", [(835, 645), (855, 650), (875, 695), (855, 700)], None),
    ("F", "MUS", [(150, 780), (205, 768), (170, 780)], None),
    ("F", "MUS", [(300, 768), (360, 775), (345, 812)], None),
    ("F", "MNO", [(400, 780), (425, 765), (450, 775), (450, 805), (420, 805)], None),
    ("F", "MNO", [(485, 775), (510, 770), (545, 790), (540, 815), (490, 795)], None),
    ("F", "MNO", [(578, 770), (605, 772), (590, 790)], None),
    ("F", "MUS", [(695, 950), (710, 880), (770, 840), (830, 770), (860, 765), (930, 815), (860, 890), (800, 930), (700, 955)], None),
    ("F", "MUS", [(150, 1000), (230, 980), (240, 1050), (150, 1075)], [("BIO", "..")]),
    ("F", "MUS", [(600, 1070), (650, 1015), (725, 980), (700, 1010), (625, 1060), (605, 1075)], None),
    ("F", "BIO", [(535, 990), (570, 990), (570, 1020), (550, 1030), (535, 1020)], [("CHL", "..")]),
    ("F", "FEO", [(805, 985), (835, 980), (838, 992), (805, 992)], None),
    ("F", "MUS", [(155, 1135), (205, 1160), (265, 1215), (265, 1265), (235, 1265), (170, 1190)], None),
    ("F", "BIO", [(205, 1100), (345, 1175), (358, 1250), (290, 1275), (265, 1235), (265, 1215), (205, 1160)], None),
    ("F", "BIO", [(155, 1135), (200, 1130), (195, 1160), (175, 1160)], None),
    ("F", "MUS", [(745, 1130), (860, 1100), (870, 1125), (800, 1125)], None),
    ("F", "BIO", [(728, 1165), (800, 1125), (880, 1125), (945, 1190), (880, 1205), (820, 1220), (750, 1190)], None),
    ("F", "MUS", [(150, 1375), (240, 1320), (375, 1302), (330, 1335), (190, 1380)], None),
    ("F", "TOU", [(415, 1345), (435, 1305), (460, 1305), (455, 1340), (420, 1352)], None),
    ("F", "BIO", [(550, 1340), (590, 1305), (700, 1345), (760, 1400), (700, 1430), (695, 1460), (640, 1460), (570, 1390)], PINK_MIX),
    ("F", "BIO", [(855, 1305), (895, 1305), (890, 1312)], None),
    ("F", "BIO", [(935, 1305), (975, 1305), (975, 1315), (940, 1312)], None),
]
GRAINS_11 = [
    ("G", "QTZ", [(50, 145), (75, 85), (110, 65), (155, 100), (135, 150), (105, 172), (65, 165)], None),
    ("G", "CAS", [(105, 125), (125, 78), (148, 90), (125, 110)], None),
    ("G", "KFS", [(180, 85), (203, 65), (195, 95), (182, 98)], None),
    ("G", "QTZ", [(265, 90), (295, 70), (305, 100), (280, 115)], None),
    ("G", "KFS", [(230, 150), (262, 95), (310, 95), (320, 130), (300, 170), (265, 192), (230, 180)], None),
    ("G", "CAS", [(262, 190), (285, 185), (285, 210), (265, 215)], None),
    ("G", "MUS", [(350, 185), (385, 110), (410, 70), (405, 130), (365, 190)], None),
    ("G", "CAS", [(385, 105), (400, 92), (412, 110), (398, 128)], None),
    ("G", "QTZ", [(440, 170), (465, 85), (510, 70), (530, 115), (585, 115), (625, 210), (540, 255), (470, 280), (450, 240)], None),
    ("G", "CAS", [(478, 130), (490, 95), (515, 105), (525, 145), (495, 165)], None),
    ("G", "CAS", [(465, 205), (485, 205), (485, 212), (465, 212)], None),
    ("G", "CAS", [(493, 200), (512, 195), (505, 240), (495, 240)], None),
]
GRAINS_12 = [
    ("G", "CAS", [(845, 110), (852, 65), (880, 115), (875, 160), (858, 165)], [("KAO", ".")]),
    ("G", "CAS", [(908, 105), (920, 65), (930, 100), (920, 108)], None),
    ("G", "MUS", [(955, 155), (960, 85), (1060, 100), (1090, 140), (1090, 210), (1040, 180), (965, 175)], None),
    ("G", "KFS", [(970, 85), (1020, 65), (1055, 90), (1085, 150), (1085, 210), (1060, 170), (1035, 110), (990, 110)], None),
    ("G", "CAS", [(965, 180), (1040, 180), (1085, 215), (1075, 260), (1020, 255), (975, 225)], None),
    ("G", "PLA", [(1060, 225), (1085, 210), (1085, 240), (1045, 270), (1025, 265)], None),
    ("G", "MUS", [(1135, 170), (1150, 90), (1185, 70), (1190, 140), (1165, 205), (1140, 195)], None),
    ("G", "CAS", [(1135, 95), (1150, 90), (1175, 110), (1180, 145), (1150, 150)], None),
    ("G", "KFS", [(1120, 150), (1140, 135), (1145, 180), (1122, 185)], None),
]
GRAINS_13 = [
    ("H", "QTZ", [(80, 100), (105, 75), (145, 75), (195, 115), (170, 150), (130, 220), (105, 205), (85, 155)], None),
    ("H", "CAS", [(115, 160), (130, 135), (170, 155), (188, 180), (150, 200), (130, 222), (120, 215)], None),
    ("H", "MUS", [(232, 285), (240, 80), (265, 85), (300, 215), (285, 270), (245, 312)], None),
    ("H", "CAS", [(248, 120), (275, 130), (312, 145), (312, 215), (285, 210), (248, 195)], None),
    ("H", "MUS", [(350, 105), (385, 75), (415, 170), (395, 205), (375, 165)], None),
    ("H", "CAS", [(385, 80), (400, 65), (425, 80), (425, 180), (410, 180), (385, 110)], None),
    ("H", "CAS", [(462, 90), (470, 70), (476, 95)], None),
]
GRAINS_14 = [
    ("H", "MUS", [(1212, 80), (1250, 80), (1280, 130), (1280, 200), (1235, 222), (1195, 245), (1165, 210)], None),
    ("H", "CAS", [(1128, 80), (1195, 70), (1215, 140), (1230, 200), (1205, 225), (1165, 160), (1135, 130)], None),
]
GRAINS_18 = [
    ("I", "CAS", [(100, 85), (108, 75), (118, 95), (108, 105)], None),
    ("I", "CAS", [(150, 100), (160, 68), (195, 110), (180, 150), (160, 145)], None),
    ("I", "MUS", [(280, 115), (298, 120), (290, 170), (280, 170)], None),
    ("I", "CAS", [(218, 115), (245, 70), (270, 70), (292, 105), (270, 170), (245, 172)], None),
]
GRAINS_19 = [
    ("I", "CAS", [(995, 90), (1010, 70), (1032, 85), (1030, 105), (1008, 102)], None),
    ("I", "CAS", [(1060, 110), (1095, 68), (1125, 90), (1095, 125), (1090, 140), (1060, 142)], None),
    ("I", "CAS", [(1150, 75), (1225, 68), (1225, 110), (1205, 160), (1185, 155), (1155, 110)], None),
    ("I", "CAS", [(1255, 80), (1265, 70), (1295, 120), (1335, 150), (1325, 220), (1285, 230), (1270, 180), (1252, 120)], None),
]

# small specks and fragments: (crop, mineral, marker size, points)
SPECKS_00 = [
    ("A", "BIO", 20, [(100, 420), (130, 440), (160, 425), (195, 395), (215, 420), (240, 410), (265, 395), (300, 430), (315, 400), (90, 470), (85, 520), (125, 480), (170, 475), (200, 450), (220, 490), (150, 520), (115, 550), (95, 580), (145, 565), (185, 550), (205, 530), (130, 600), (80, 605), (240, 470)]),
    ("A", "KAO", 30, [(150, 380), (135, 385), (240, 380), (112, 475), (105, 490), (183, 517), (185, 530)]),
    ("A", "KFS", 20, [(185, 380), (205, 420)]),
    ("A", "FEO", 40, [(355, 372), (385, 372), (408, 372), (432, 368), (460, 375)]),
    ("A", "MUS", 30, [(338, 1272), (388, 1275)]),
    ("A", "BIO", 25, [(492, 1275), (418, 1458), (438, 900)]),
    ("B", "BIO", 30, [(805, 133), (685, 663), (735, 665), (780, 663), (825, 663), (490, 1478)]),
    ("B", "KAO", 20, [(865, 132), (160, 378)]),
    ("B", "KFS", 25, [(210, 378), (490, 375)]),
    ("B", "FEO", 30, [(885, 663), (875, 372)]),
    ("B", "BIO", 25, [(255, 410), (320, 428), (375, 450), (295, 462), (1020, 670)]),
    ("B", "MUS", 25, [(825, 375), (990, 372), (605, 372)]),
    ("B", "RUT", 22, [(210, 730), (235, 745), (200, 780), (220, 820), (205, 860), (270, 865), (305, 700), (330, 750)]),
    ("B", "KFS", 25, [(330, 1270), (605, 1275), (630, 1360), (695, 1362)]),
    ("B", "ZIR", 60, [(240, 1258), (240, 1330)]),
    ("B", "BIO", 20, [(505, 1270), (590, 1320), (525, 1345), (565, 1338), (640, 1295), (655, 1380)]),
]
SPECKS_01 = [
    ("A", "CAS", 30, [(690, 430), (690, 450), (655, 470), (680, 490), (650, 530), (665, 510), (660, 560), (675, 570), (640, 560), (720, 490)]),
    ("A", "MIC", 15, [(735, 440), (605, 490), (610, 620)]),
    ("A", "CAS", 25, [(812, 370), (845, 375), (650, 690), (580, 745), (590, 735)]),
    ("A", "COL", 15, [(645, 678), (930, 690)]),
]
SPECKS_02 = [
    ("A", "KAO", 15, [(1095, 470), (1145, 440), (1125, 460)]),
    ("A", "CAS", 15, [(1225, 370), (1320, 458)]),
]
SPECKS_07 = [
    ("D", "CAS", 25, [(285, 188), (305, 178), (360, 182), (420, 185), (437, 185)]),
]
SPECKS_08 = [
    ("D", "CAS", 20, [(712, 185), (735, 185), (752, 185), (770, 185), (840, 190)]),
]
SPECKS_09 = [
    ("D", "CAS", 25, [(1147, 175), (1243, 180), (1318, 180), (1340, 190), (1362, 180), (1385, 175), (1395, 180), (1385, 205)]),
    ("D", "CAS", 25, [(1245, 465), (1268, 460), (1287, 470), (1327, 458), (1352, 460), (1425, 460), (1450, 460), (1507, 460)]),
    ("D", "CAS", 25, [(1147, 655), (1285, 650), (1262, 650), (1455, 650), (1480, 665)]),
    ("D", "CAS", 25, [(1370, 960), (1497, 955), (1150, 1310), (1235, 1315), (1260, 1315), (1288, 1315), (1360, 1310)]),
]
SPECKS_10 = [
    ("E", "MIC", 15, [(260, 138), (310, 90), (290, 130), (215, 155), (345, 115), (240, 885), (270, 885), (295, 880), (225, 875)]),
    ("E", "BIO", 25, [(400, 85), (925, 1265), (1018, 1268)]),
    ("E", "MUS", 25, [(820, 85), (878, 88), (930, 90), (988, 88), (155, 212), (225, 215)]),
    ("E", "KFS", 25, [(500, 455), (712, 452), (855, 565), (538, 995), (935, 995)]),
    ("E", "MUS", 25, [(400, 568), (422, 570), (475, 577), (685, 568), (745, 566), (915, 568), (815, 855), (865, 855), (920, 855), (970, 852), (1030, 855)]),
    ("E", "KAO", 20, [(765, 458), (982, 565)]),
    ("E", "MUS", 20, [(590, 1105), (650, 1103), (710, 1108), (880, 998), (580, 995)]),
    ("E", "BIO", 25, [(200, 632), (570, 572), (625, 602), (770, 100), (320, 770), (235, 995), (725, 1040)]),
    ("E", "MUS", 25, [(340, 1268), (400, 1270), (275, 1265)]),
    ("E", "MNO", 60, [(437, 1552)]),
    ("F", "MUS", 25, [(160, 232), (210, 228), (252, 228), (295, 228), (405, 132), (455, 135), (500, 132), (545, 130), (655, 228), (365, 352), (412, 352), (690, 338), (652, 135), (870, 133)]),
    ("F", "BIO", 25, [(703, 132), (1025, 338), (915, 645), (412, 645), (720, 648)]),
    ("F", "KFS", 25, [(865, 340), (295, 988), (345, 982), (983, 1102)]),
    ("F", "FEO", 25, [(285, 472), (452, 478), (652, 767)]),
    ("F", "MUS", 25, [(258, 768), (405, 985), (475, 990), (1040, 650)]),
    ("F", "BIO", 30, [(765, 988), (418, 1105), (470, 1108), (525, 1112), (570, 1112), (628, 1115), (682, 1108), (508, 1312), (798, 1310)]),
    ("F", "BIO", 22, [(540, 510), (570, 530), (520, 525), (800, 850), (830, 855), (775, 885), (880, 790)]),
    ("F", "MIC", 15, [(175, 500), (178, 515), (220, 520)]),
]
SPECKS_18 = [
    ("I", "CAS", 18, [(62, 75), (108, 82)]),
]
SPECKS_19 = [
    ("I", "CAS", 18, [(840, 70), (900, 78), (935, 75), (1367, 70)]),
]

PANELS = {(0, 0): (GRAINS_00, SPECKS_00), (0, 1): (GRAINS_01, SPECKS_01), (0, 2): (GRAINS_02, SPECKS_02),
          (0, 3): (GRAINS_03, []), (0, 4): (GRAINS_04, []), (0, 5): (GRAINS_05, []), (0, 6): (GRAINS_06, []),
          (0, 7): (GRAINS_07, SPECKS_07), (0, 8): (GRAINS_08, SPECKS_08), (0, 9): (GRAINS_09, SPECKS_09),
          (1, 0): (GRAINS_10, SPECKS_10), (1, 1): (GRAINS_11, []), (1, 2): (GRAINS_12, []), (1, 3): (GRAINS_13, []),
          (1, 4): (GRAINS_14, []), (1, 8): (GRAINS_18, SPECKS_18), (1, 9): (GRAINS_19, SPECKS_19)}


def crop_to_panel(crop, pts, r, c):
    left, top, sx, sy = CROPS[crop]
    return [(left + x / sx - X_EDGES[c], top + y / sy - Y_EDGES[r]) for x, y in pts]


def round_corners(pts):
    # one pass of corner cutting, keeps the traced grains from looking faceted
    if len(pts) < 5:
        return pts
    out = []
    for i, (x0, y0) in enumerate(pts):
        x1, y1 = pts[(i + 1) % len(pts)]
        out.append((x0 + 0.2 * (x1 - x0), y0 + 0.2 * (y1 - y0)))
        out.append((x0 + 0.8 * (x1 - x0), y0 + 0.8 * (y1 - y0)))
    return out


fig = plt.figure(figsize=(W / 100, H / 100), dpi=100, facecolor="white")

for r in range(2):
    for c in range(10):
        x0, x1 = X_EDGES[c], X_EDGES[c + 1]
        y0, y1 = Y_EDGES[r], Y_EDGES[r + 1]
        ax = fig.add_axes([x0 / W, 1 - y1 / H, (x1 - x0) / W, (y1 - y0) / H])
        ax.set_xlim(0, x1 - x0)
        ax.set_ylim(y1 - y0, 0)
        ax.set_xticks([])
        ax.set_yticks([])
        for s in ax.spines.values():
            s.set_linewidth(2.4)
            s.set_color("#404040")
        grains, specks = PANELS.get((r, c), ([], []))
        for crop, mineral, outline, texture in grains:
            pts = round_corners(crop_to_panel(crop, outline, r, c))
            body = Polygon(pts, closed=True, facecolor=COL[mineral], edgecolor="none")
            if len(pts) > 8:
                body.set_sketch_params(scale=1.6, length=14, randomness=4)
            ax.add_patch(body)
            for tex_mineral, hatch in texture or []:
                ax.add_patch(Polygon(pts, closed=True, fill=False, edgecolor=COL[tex_mineral], hatch=hatch, linewidth=0))
        for crop, mineral, size, points in specks:
            pts = crop_to_panel(crop, points, r, c)
            ax.scatter([p[0] for p in pts], [p[1] for p in pts], s=size, marker="s", color=COL[mineral], linewidths=0)

fig.text(1897 / W, 1 - 46 / H, "Liberation Cassiterite", family="Liberation Sans",
         fontweight="bold", fontsize=38.5, ha="center", va="center", color="#111111")
for c, label in enumerate(COL_LABELS):
    fig.text((X_EDGES[c] + X_EDGES[c + 1]) / 2 / W + 14 / W, 1 - 133 / H, label,
             family="Liberation Sans", fontsize=35.5, ha="center", va="center", color="#111111")
fig.text(45 / W, 1 - 1765 / H, "Sample Code", family="DejaVu Sans", fontweight="bold", fontsize=39,
         rotation=90, ha="center", va="center", color="#111111")
for r, label in enumerate(ROW_LABELS):
    fig.text(103 / W, 1 - [988, 2579][r] / H, label, family="Liberation Sans", fontsize=41,
             rotation=90, ha="center", va="center", color="#111111")

# key sits on a white block over the empty panels
key_x0, key_x1, key_y0, key_y1 = 1655, 3640, 2149, 3269
lg = fig.add_axes([key_x0 / W, 1 - key_y1 / H, (key_x1 - key_x0) / W, (key_y1 - key_y0) / H], zorder=5)
lg.set_xlim(key_x0, key_x1)
lg.set_ylim(key_y1, key_y0)
lg.axis("off")
lg.add_patch(Rectangle((key_x0, key_y0), key_x1 - key_x0, key_y1 - key_y0, facecolor="white", edgecolor="none"))
for i, (name, color) in enumerate(zip(MINERAL_NAMES, MINERAL_COLORS)):
    left = 1669 + i * 79.3
    lg.add_patch(Rectangle((left + 3, 2203), 58, 86, facecolor=color, edgecolor="black", linewidth=5))
    lg.text(left + 20, 2313, name, family="DejaVu Sans", fontsize=43, rotation=270,
            ha="center", va="top", color="black")
lg.text(3538, 2216, "Mineral Name", family="DejaVu Sans", fontweight="bold", fontsize=43, rotation=270,
        ha="center", va="top", color="black")

fig.savefig("out.png", dpi=100, facecolor="white")
